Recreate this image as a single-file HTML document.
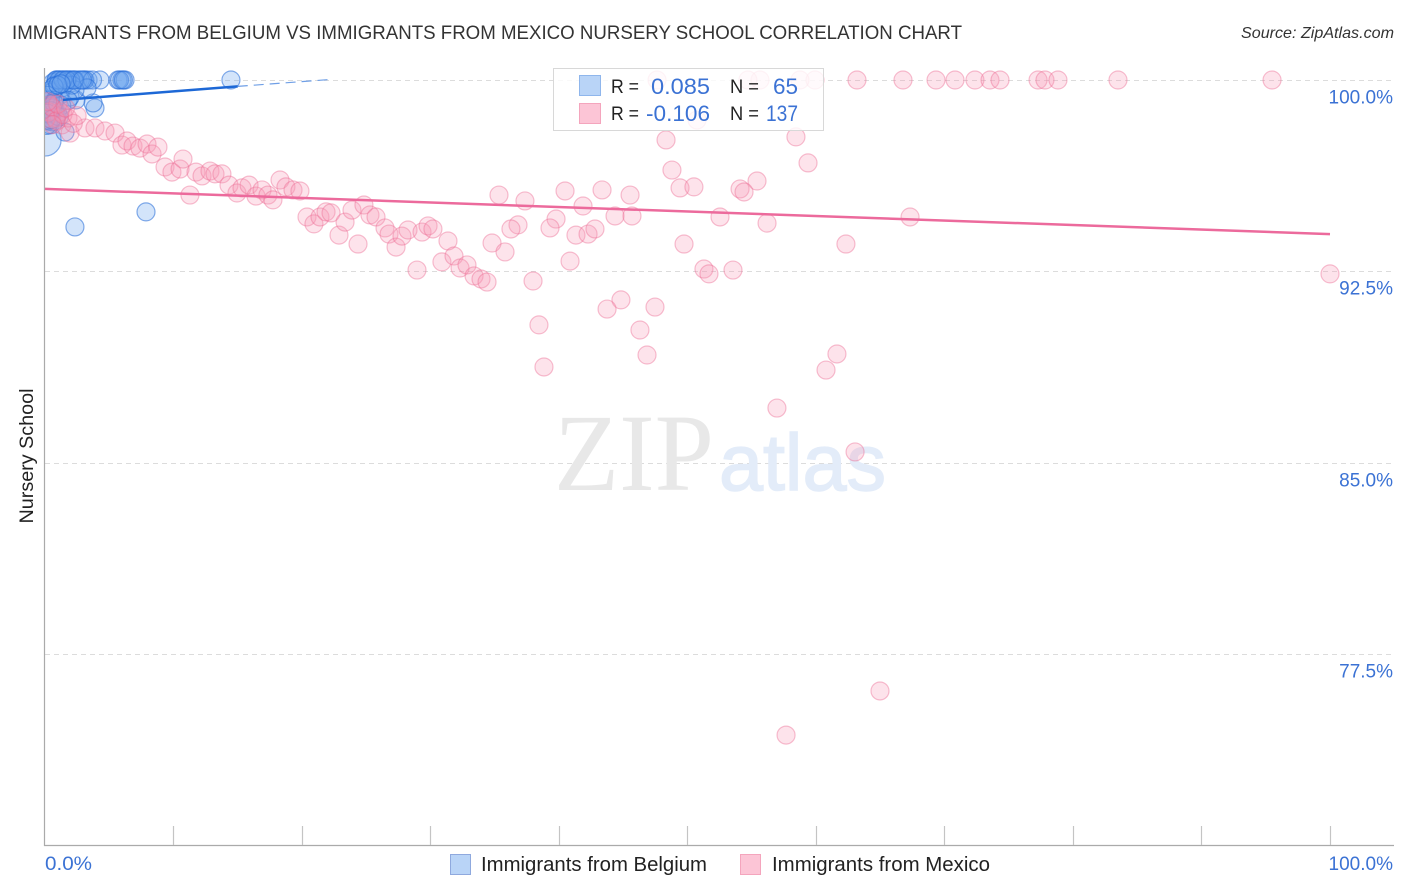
<!DOCTYPE html>
<html><head><meta charset="utf-8"><title>Nursery School Correlation Chart</title>
<style>
html,body{margin:0;padding:0;background:#fff;width:1406px;height:892px;overflow:hidden}
svg{display:block;font-family:"Liberation Sans",sans-serif}
</style></head>
<body>
<svg id="chart" width="1406" height="892" viewBox="0 0 1406 892">
<defs><clipPath id="plot-clip"><rect x="45" y="60" width="1361" height="786"/></clipPath></defs>
<text x="12" y="39" font-size="19" fill="#333" textLength="950" lengthAdjust="spacingAndGlyphs">IMMIGRANTS FROM BELGIUM VS IMMIGRANTS FROM MEXICO NURSERY SCHOOL CORRELATION CHART</text>
<text x="1394" y="38" font-size="16" font-style="italic" fill="#333" text-anchor="end" textLength="153" lengthAdjust="spacingAndGlyphs">Source: ZipAtlas.com</text>
<g id="grid"></g>
<g>
<text x="554" y="490" font-size="110" font-family="'Liberation Serif',serif" fill="#e8e8e8" textLength="160" lengthAdjust="spacingAndGlyphs">ZIP</text>
<text x="719" y="490" font-size="80" fill="#e3ecf9" stroke="#e3ecf9" stroke-width="1.5" textLength="167" lengthAdjust="spacingAndGlyphs">atlas</text>
</g>
<g clip-path="url(#plot-clip)">
<g id="belgium"></g>
<g id="mexico"></g>
</g>
<g id="trends"></g>
<g id="axes"></g>
<text transform="translate(33,456) rotate(-90)" font-size="19" fill="#222" text-anchor="middle" textLength="135" lengthAdjust="spacingAndGlyphs">Nursery School</text>
<g>
<rect x="553.5" y="68.5" width="270" height="62" fill="#fff" fill-opacity="0.82" stroke="#d8d8d8"/>
<rect x="579.5" y="75.5" width="21" height="20" fill="#b9d4f7" stroke="#8fb6ec"/>
<rect x="579.5" y="103.5" width="21" height="20" fill="#fcc5d6" stroke="#f4a5bd"/>
<g font-size="19" fill="#222">
<text x="611" y="93" textLength="28" lengthAdjust="spacingAndGlyphs">R =</text>
<text x="611" y="120" textLength="28" lengthAdjust="spacingAndGlyphs">R =</text>
<text x="730" y="93" textLength="29" lengthAdjust="spacingAndGlyphs">N =</text>
<text x="730" y="120" textLength="29" lengthAdjust="spacingAndGlyphs">N =</text>
</g>
<g font-size="22" fill="#3b72d4">
<text x="651" y="94" textLength="59" lengthAdjust="spacingAndGlyphs">0.085</text>
<text x="646" y="121" textLength="64" lengthAdjust="spacingAndGlyphs">-0.106</text>
<text x="773" y="94" textLength="25" lengthAdjust="spacingAndGlyphs">65</text>
<text x="766" y="121" textLength="32" lengthAdjust="spacingAndGlyphs">137</text>
</g>
</g>
<g>
<rect x="450.5" y="854.5" width="20" height="20" fill="#b9d4f7" stroke="#8fa9de"/>
<text x="481" y="871" font-size="20" fill="#222" textLength="226" lengthAdjust="spacingAndGlyphs">Immigrants from Belgium</text>
<rect x="740.5" y="854.5" width="20" height="20" fill="#fcc5d6" stroke="#f4a5bd"/>
<text x="772" y="871" font-size="20" fill="#222" textLength="218" lengthAdjust="spacingAndGlyphs">Immigrants from Mexico</text>
</g>
</svg>
<script>
const yTicks = [100, 92.5, 85, 77.5];
const yTickLabels = ["100.0%", "92.5%", "85.0%", "77.5%"];
const xTicks = [0, 10, 20, 30, 40, 50, 60, 70, 80, 90, 100];
const xEndLabels = ["0.0%", "100.0%"];

const belgiumX = [1.01,1.32,1.63,1.95,2.18,2.57,3.11,3.35,4.28,3.04,1.17,5.68,5.99,6.23,14.47,0.62,0.85,1.8,2.33,2.75,3.7,5.8,6.1,1.5,2.0,
  2.33,7.86,3.89,3.74,2.41,1.95,3.27,1.32,0.78,0.54,0.39,0.23,0,0.23,0.39,1.56,0.78,1.17,2.33,0.39,0.16,0.54,1,0,1.56,2.1,0.39,0.23,0.78,1.3,1.8,
  0.3,0.6,0.9,0.1,0.45,0.7,1.1,0.2,0.5,
  0.9,1.1,1.4,1.7,2.25,2.9,0.7,1.0,1.25];
const belgiumY = [100,100,100,100,100,100,100,100,100,100,100,100,100,100,100,99.9,100,100,100,100,100,100,100,100,100,
  94.24,94.83,98.9,99.1,99.22,99.33,99.69,99.69,99.8,99.53,99.22,99.02,97.65,98.43,98.24,97.96,98.82,99.41,99.61,98.63,98.82,98.51,98.7,99.22,99.84,99.8,99.6,99.4,99.2,99,99.2,
  98.4,98.9,98.6,98.3,98.8,99.1,98.55,98.7,98.45,
  100,100,100,100,100,100,99.75,99.8,99.85];
const belgiumWeight = [1,1,1,1,1,1,1,1,1,1,1,1,1,1,1,1,1,1,1,1,1,1,1,1,1,
  1,1,1,1,1,1,1,1,1,1,1,1,3.2,1,1,1,1,1,1,1,2,2,1,1,1,1,1,1,1,1,1,
  1,1,1,1.5,1,1,1,1,1,
  1,1,1,1,1,1,1,1,1];

const mexicoX = [47.63,55.64,59.92,63.19,66.77,69.34,70.82,72.37,73.54,74.32,77.28,77.82,78.83,83.5,95.49,100,50.74,48.33,58.44,59.38,48.79,55.41,49.42,50.5,54.09,54.4,40.47,43.35,45.53,35.33,37.35,41.87,44.36,45.68,52.53,56.19,67.32,62.33,49.73,39.77,39.3,36.81,36.26,41.32,42.26,42.8,34.79,35.8,40.86,37.98,51.28,51.67,53.54,44.82,43.74,47.47,46.3,38.44,46.85,38.83,61.63,60.78,56.96,63.04,64.98,57.67,
  0.78,1.17,0.39,1.32,1.95,1.79,3.11,3.89,4.67,5.45,5.99,6.38,6.85,7.39,7.94,8.33,8.79,9.34,9.88,10.51,10.74,11.28,11.75,12.22,12.84,13.23,13.77,14.32,14.94,15.33,15.88,16.42,16.89,17.35,17.74,18.29,18.75,19.3,19.84,20.39,20.93,21.4,21.87,22.26,22.88,23.35,23.89,24.36,24.82,25.29,25.76,26.46,26.77,27.32,27.78,28.25,28.95,29.34,29.81,30.19,30.89,31.36,31.83,32.3,32.84,33.39,33.93,34.4,0.3,
  54.7,58.75,0.1,0.5,0.9,1.4,1.0,0.6,0.2,1.6,2.2,2.5];
const mexicoY = [100,100,100,100,100,100,100,100,100,100,100,100,100,100,100,92.4,98.43,97.65,97.77,96.75,96.47,96.04,95.77,95.81,95.73,95.61,95.65,95.69,95.49,95.49,95.26,95.06,94.67,94.67,94.63,94.39,94.63,93.57,93.57,94.55,94.2,94.32,94.16,93.92,93.96,94.16,93.61,93.26,92.9,92.12,92.59,92.4,92.55,91.38,91.02,91.1,90.2,90.4,89.22,88.75,89.26,88.63,87.14,85.42,76.05,74.32,
  98.51,98.75,99.02,98.24,97.92,98.51,98.12,98.12,98,97.92,97.45,97.61,97.41,97.33,97.49,97.1,97.37,96.59,96.39,96.51,96.9,95.49,96.39,96.24,96.43,96.32,96.32,95.88,95.57,95.77,95.88,95.45,95.69,95.49,95.3,96.08,95.81,95.69,95.65,94.63,94.36,94.63,94.83,94.79,93.92,94.43,94.9,93.57,95.1,94.71,94.63,94.2,93.96,93.45,93.88,94.12,92.55,94.04,94.28,94.16,92.87,93.69,93.1,92.63,92.75,92.32,92.2,92.08,98.75,
  100,100,98.5,98.95,98.4,98.65,99.05,98.25,99.15,98.9,98.3,98.6];

const belgiumTrendX = [1.4, 15];
const belgiumTrendY = [99.22, 99.75];
const belgiumDashX = [15, 22.2];
const belgiumDashY = [99.75, 100.02];
const mexicoTrendX = [0, 100];
const mexicoTrendY = [95.73, 93.96];

const NS = 'http://www.w3.org/2000/svg';
const xScale = v => 45 + v * 12.85;
const yScale = v => 80 + (100 - v) * 25.51;
function mk(tag, parent, attrs) {
  const el = document.createElementNS(NS, tag);
  Object.keys(attrs).forEach(k => el.setAttribute(k, attrs[k]));
  parent.appendChild(el);
  return el;
}
const grid = document.getElementById('grid');
const axes = document.getElementById('axes');
yTicks.forEach((t, i) => {
  const y = Math.round(yScale(t)) + 0.5;
  const line = mk('line', grid, {x1: 45, x2: 1394, y1: y, y2: y, stroke: '#dcdcdc', 'stroke-dasharray': '5 4'});
  
  
  const lab = mk('text', axes, {x: 1393, y: y + 23, 'font-size': 19, fill: '#3b72d4', 'text-anchor': 'end'});
  lab.textContent = yTickLabels[i];
  
  
});
const yAxis = mk('line', axes, {x1: 44.5, x2: 44.5, y1: 68, y2: 846, stroke: '#aaa', 'stroke-width': 1.2});


const xAxis = mk('line', axes, {x1: 44, x2: 1394, y1: 845.5, y2: 845.5, stroke: '#aaa', 'stroke-width': 1.2});


xTicks.forEach(t => {
  const x = Math.floor(xScale(t)) + 0.5;
  if (t === 0) return;
  const tick = mk('line', axes, {x1: x, x2: x, y1: 826, y2: 845, stroke: '#c4c4c4', 'stroke-width': 1.2});
  
  
});
const xl0 = mk('text', axes, {x: 45, y: 870, 'font-size': 19, fill: '#3b72d4', textLength: 47, lengthAdjust: 'spacingAndGlyphs'});
xl0.textContent = xEndLabels[0];


const xl1 = mk('text', axes, {x: 1393, y: 870, 'font-size': 19, fill: '#3b72d4', 'text-anchor': 'end'});
xl1.textContent = xEndLabels[1];



const gB = document.getElementById('belgium');
belgiumX.forEach((v, i) => {
  const c = mk('circle', gB, {cx: xScale(v), cy: yScale(belgiumY[i]), r: 9 * Math.sqrt(belgiumWeight[i]), fill: 'rgba(110,165,240,0.3)', stroke: 'rgba(35,105,215,0.55)', 'stroke-width': 1.2});
  
  
});
const gM = document.getElementById('mexico');
mexicoX.forEach((v, i) => {
  const c = mk('circle', gM, {cx: xScale(v), cy: yScale(mexicoY[i]), r: 9, fill: 'rgba(248,150,180,0.27)', stroke: 'rgba(235,105,145,0.42)', 'stroke-width': 1.2});
  
  
});
const gT = document.getElementById('trends');
const t1 = mk('line', gT, {x1: xScale(belgiumTrendX[0]), y1: yScale(belgiumTrendY[0]), x2: xScale(belgiumTrendX[1]), y2: yScale(belgiumTrendY[1]), stroke: '#1d68d6', 'stroke-width': 2.5});


const t2 = mk('line', gT, {x1: xScale(belgiumDashX[0]), y1: yScale(belgiumDashY[0]), x2: xScale(belgiumDashX[1]), y2: yScale(belgiumDashY[1]), stroke: '#6f9fe6', 'stroke-width': 1.2, 'stroke-dasharray': '10 6'});


const t3 = mk('line', gT, {x1: xScale(mexicoTrendX[0]), y1: yScale(mexicoTrendY[0]), x2: xScale(mexicoTrendX[1]), y2: yScale(mexicoTrendY[1]), stroke: '#ec6a9c', 'stroke-width': 2.5});


</script>
</body></html>
